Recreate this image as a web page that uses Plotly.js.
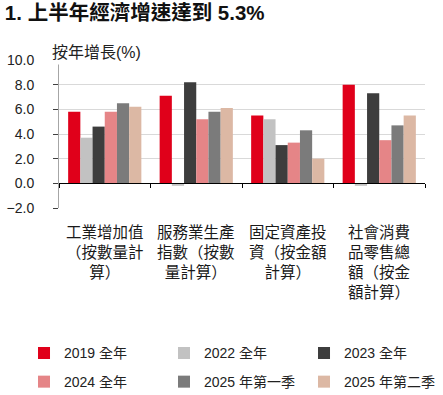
<!DOCTYPE html>
<html>
<head>
<meta charset="utf-8">
<script src="https://cdn.plot.ly/plotly-3.0.1.min.js"></script>
<style>html,body{margin:0;padding:0;background:#fff;}#chart{width:443px;height:395px;}</style>
</head>
<body>
<div id="chart"></div>
<script>
const categories = ['工業增加值（按數量計算）', '服務業生產指數（按數量計算）', '固定資產投資（按金額計算）', '社會消費品零售總額（按金額計算）'];
const categoryLabels = ['工業增加值<br>（按數量計<br>算）', '服務業生產<br>指數（按數<br>量計算）', '固定資產投<br>資（按金額<br>計算）', '社會消費<br>品零售總<br>額（按金<br>額計算）'];
const seriesNames = ['2019 全年', '2022 全年', '2023 全年', '2024 全年', '2025 年第一季', '2025 年第二季'];
const v2019 = [5.8, 7.1, 5.5, 8.0];
const v2022 = [3.7, -0.2, 5.2, -0.2];
const v2023 = [4.6, 8.2, 3.1, 7.3];
const v2024 = [5.8, 5.2, 3.3, 3.5];
const v2025q1 = [6.5, 5.8, 4.3, 4.7];
const v2025q2 = [6.2, 6.1, 2.0, 5.5];
const yTicks = [-2, 0, 2, 4, 6, 8, 10];

const seriesValues = [v2019, v2022, v2023, v2024, v2025q1, v2025q2];
const colors = ['#e0001a', '#c2c2c2', '#3d3d3d', '#e58587', '#7b7b7b', '#dcb8a4'];
const FONT = 'Liberation Sans, Arial, "Noto Sans CJK TC", sans-serif';

const traces = seriesValues.map((vals, i) => ({
  type: 'bar',
  name: seriesNames[i],
  x: categories,
  y: vals,
  marker: {color: colors[i], line: {width: 0}},
  legend: i < 3 ? 'legend' : 'legend2',
  hoverinfo: 'skip'
}));

const legendCommon = {
  orientation: 'h',
  xanchor: 'left',
  yanchor: 'middle',
  x: -0.0956,
  entrywidth: 95,
  entrywidthmode: 'pixels',
  font: {family: FONT, size: 14, color: '#222'},
  bgcolor: 'rgba(0,0,0,0)',
  borderwidth: 0,
  itemclick: false,
  itemdoubleclick: false
};

const annotations = categories.map((c, i) => ({
  x: c, xref: 'x',
  y: -0.092, yref: 'paper',
  yanchor: 'top', xanchor: 'center',
  text: categoryLabels[i],
  showarrow: false,
  align: 'center',
  font: {family: FONT, size: 15.5, color: '#1a1a1a'}
}));
annotations.push({
  x: -0.03, xref: 'paper', xanchor: 'left',
  y: 1.052, yref: 'paper', yanchor: 'middle',
  text: '按年增長(%)',
  showarrow: false,
  align: 'left',
  width: 104,
  bgcolor: '#ffffff',
  borderpad: 3,
  font: {family: FONT, size: 16, color: '#222'}
});

const layout = {
  width: 443, height: 395,
  margin: {l: 59, r: 18, t: 60, b: 187, autoexpand: false},
  paper_bgcolor: '#fff', plot_bgcolor: '#fff',
  title: {
    text: '<b>1. 上半年經濟增速達到 5.3%</b>',
    xref: 'container', yref: 'container',
    x: 0.011, xanchor: 'left',
    y: 0.968, yanchor: 'middle',
    font: {family: FONT, size: 20.5, color: '#111'}
  },
  barmode: 'group',
  bargap: 0.2,
  bargroupgap: 0,
  showlegend: true,
  legend: Object.assign({}, legendCommon, {y: -0.982}),
  legend2: Object.assign({}, legendCommon, {y: -1.176}),
  xaxis: {
    type: 'category',
    anchor: 'free',
    position: 1/6,
    showline: true, linecolor: '#000', linewidth: 1,
    ticks: 'outside', ticklen: 4, tickcolor: '#000', tickwidth: 1,
    tickson: 'boundaries',
    showticklabels: false,
    showgrid: false, zeroline: false,
    fixedrange: true
  },
  yaxis: {
    range: [-2, 10],
    tickvals: yTicks,
    tickformat: '.1f',
    showgrid: true, gridcolor: '#d9d9d9', gridwidth: 1,
    zeroline: false,
    showline: true, linecolor: '#a6a6a6', linewidth: 1,
    ticks: 'outside', ticklen: 5, tickcolor: '#404040', tickwidth: 1,
    ticklabelstandoff: 16,
    tickfont: {family: FONT, size: 14, color: '#222'},
    fixedrange: true
  },
  annotations: annotations
};

Plotly.newPlot('chart', traces, layout, {staticPlot: true, displayModeBar: false});
</script>
</body>
</html>
